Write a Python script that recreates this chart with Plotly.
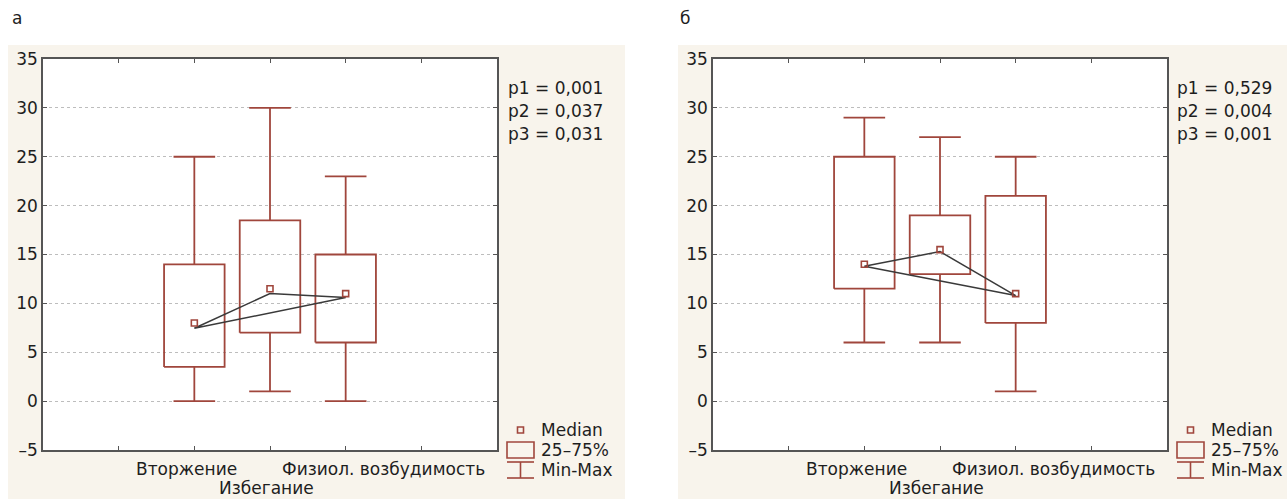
import plotly.graph_objects as go

W, H = 1287, 499

# ---------------- data ----------------
positions = [2, 3, 4]
category_labels = ["Вторжение", "Избегание", "Физиол. возбудимость"]
label_x = [1.90, 2.95, 4.50]
label_row = [0, 1, 0]

# panel а
a_min = [0, 1, 0]
a_q1 = [3.5, 7, 6]
a_median = [8, 11.5, 11]
a_q3 = [14, 18.5, 15]
a_max = [25, 30, 23]
a_tri = [7.45, 11.0, 10.6]
a_pvals = ["p1 = 0,001", "p2 = 0,037", "p3 = 0,031"]

# panel б
b_min = [6, 6, 1]
b_q1 = [11.5, 13, 8]
b_median = [14, 15.5, 11]
b_q3 = [25, 19, 21]
b_max = [29, 27, 25]
b_tri = [13.8, 15.3, 10.8]
b_pvals = ["p1 = 0,529", "p2 = 0,004", "p3 = 0,001"]

y_ticks = [-5, 0, 5, 10, 15, 20, 25, 30, 35]
y_ticktext = ["–5", "0", "5", "10", "15", "20", "25", "30", "35"]
legend_labels = ["Median", "25–75%", "Min-Max"]

# ---------------- style ----------------
BOX_C = "#a0463c"
LINE_C = "#3a3a3a"
FRAME_C = "#555555"
BEIGE = "#f8f4ec"
TXT = "#1e1e1e"
FONT = "DejaVu Sans"
FS = 17
BOX_HW = 0.4
CAP_HW = 0.275

def px(x):
    return x / W

def py(y):
    return 1 - y / H

panels = [
    dict(xa="x", ya="y", xl=43, xr=497, bg=(8, 625), panel="а", px0=10,
         mn=a_min, q1=a_q1, med=a_median, q3=a_q3, mx=a_max, tri=a_tri, pv=a_pvals, ptx=506, lgx=507),
    dict(xa="x2", ya="y2", xl=713, xr=1167, bg=(678, 1287), panel="б", px0=678,
         mn=b_min, q1=b_q1, med=b_median, q3=b_q3, mx=b_max, tri=b_tri, pv=b_pvals, ptx=1175, lgx=1177),
]
YT, YB = 59, 450

fig = go.Figure()
shapes = []
annotations = []

for p in panels:
    bx, by = [], []
    wx, wy = [], []
    for xc, lo, a, b, hi in zip(positions, p["mn"], p["q1"], p["q3"], p["mx"]):
        bx += [xc - BOX_HW, xc + BOX_HW, xc + BOX_HW, xc - BOX_HW, xc - BOX_HW, None]
        by += [a, a, b, b, a, None]
        wx += [xc, xc, None, xc, xc, None, xc - CAP_HW, xc + CAP_HW, None, xc - CAP_HW, xc + CAP_HW, None]
        wy += [b, hi, None, lo, a, None, hi, hi, None, lo, lo, None]
    fig.add_trace(go.Scatter(x=bx, y=by, mode="lines", line=dict(color=BOX_C, width=1.8),
                             xaxis=p["xa"], yaxis=p["ya"], showlegend=False, hoverinfo="skip"))
    fig.add_trace(go.Scatter(x=wx, y=wy, mode="lines", line=dict(color=BOX_C, width=1.8),
                             xaxis=p["xa"], yaxis=p["ya"], showlegend=False, hoverinfo="skip"))
    tx = positions + [positions[0]]
    ty = p["tri"] + [p["tri"][0]]
    fig.add_trace(go.Scatter(x=tx, y=ty, mode="lines", line=dict(color=LINE_C, width=1.5),
                             xaxis=p["xa"], yaxis=p["ya"], showlegend=False, hoverinfo="skip"))
    fig.add_trace(go.Scatter(x=positions, y=p["med"], mode="markers",
                             marker=dict(symbol="square-open", size=6, color=BOX_C, line=dict(width=1.6, color=BOX_C)),
                             xaxis=p["xa"], yaxis=p["ya"], showlegend=False, hoverinfo="skip"))

    # beige panel background
    shapes.append(dict(type="rect", xref="paper", yref="paper", x0=px(p["bg"][0]), x1=px(p["bg"][1]),
                       y0=0, y1=py(45), fillcolor=BEIGE, line=dict(width=0), layer="below"))
    # white plotting area
    shapes.append(dict(type="rect", xref=p["xa"] + " domain", yref=p["ya"] + " domain", x0=0, x1=1,
                       y0=0, y1=1, fillcolor="white", line=dict(width=0), layer="below"))
    annotations.append(dict(text=p["panel"], xref="paper", yref="paper", x=px(p["px0"]), y=py(18),
                            xanchor="left", yanchor="middle", showarrow=False,
                            font=dict(family=FONT, size=FS, color=TXT)))
    xref = p["xa"]
    for lab, lx, row in zip(category_labels, label_x, label_row):
        annotations.append(dict(text=lab, xref=xref, yref="paper", x=lx, y=py(469 + 19 * row),
                                xanchor="center", yanchor="middle", showarrow=False,
                                font=dict(family=FONT, size=FS, color=TXT)))
    for i, t in enumerate(p["pv"]):
        annotations.append(dict(text=t, xref="paper", yref="paper", x=px(p["ptx"]), y=py(88 + 23 * i),
                                xanchor="left", yanchor="middle", showarrow=False,
                                font=dict(family=FONT, size=FS, color=TXT)))
    lx0, lx1 = p["lgx"], p["lgx"] + 27
    lmid = (lx0 + lx1) / 2
    shapes.append(dict(type="rect", xref="paper", yref="paper", x0=px(lmid - 3), x1=px(lmid + 3),
                       y0=py(433), y1=py(427), line=dict(color=BOX_C, width=1.6), fillcolor="rgba(0,0,0,0)"))
    shapes.append(dict(type="rect", xref="paper", yref="paper", x0=px(lx0), x1=px(lx1),
                       y0=py(458), y1=py(442), line=dict(color=BOX_C, width=1.6), fillcolor="rgba(0,0,0,0)"))
    for seg in [(lx0, 462, lx1, 462), (lx0, 478, lx1, 478), (lmid, 462, lmid, 478)]:
        shapes.append(dict(type="line", xref="paper", yref="paper", x0=px(seg[0]), y0=py(seg[1]),
                           x1=px(seg[2]), y1=py(seg[3]), line=dict(color=BOX_C, width=1.6)))
    for i, t in enumerate(legend_labels):
        annotations.append(dict(text=t, xref="paper", yref="paper", x=px(lx1 + 5), y=py(430 + 20 * i),
                                xanchor="left", yanchor="middle", showarrow=False,
                                font=dict(family=FONT, size=FS, color=TXT)))

xaxis_common = dict(range=[0, 6], tickvals=[1, 2, 3, 4, 5], showticklabels=False, ticks="inside",
                    ticklen=4, tickcolor=FRAME_C, showgrid=False, zeroline=False, showline=True,
                    linecolor=FRAME_C, linewidth=1.5, mirror="ticks", automargin=False)
yaxis_common = dict(range=[-5, 35], tickvals=y_ticks, ticktext=y_ticktext, ticks="inside", ticklen=4,
                    tickcolor=FRAME_C, showgrid=True, gridcolor="#bdbdbd", griddash="dot", gridwidth=1,
                    zeroline=False, showline=True, linecolor=FRAME_C, linewidth=1.5, mirror="ticks",
                    automargin=False, tickfont=dict(family=FONT, size=FS, color=TXT))

fig.update_layout(
    width=W, height=H, margin=dict(l=0, r=0, t=0, b=0, pad=0, autoexpand=False),
    paper_bgcolor="white", plot_bgcolor="white",
    xaxis=dict(domain=[px(43), px(497)], anchor="y", **xaxis_common),
    yaxis=dict(domain=[py(YB), py(YT)], anchor="x", **yaxis_common),
    xaxis2=dict(domain=[px(713), px(1167)], anchor="y2", **xaxis_common),
    yaxis2=dict(domain=[py(YB), py(YT)], anchor="x2", **yaxis_common),
    shapes=shapes, annotations=annotations, showlegend=False,
    font=dict(family=FONT, size=FS, color=TXT),
)

fig.write_html("out.html")
